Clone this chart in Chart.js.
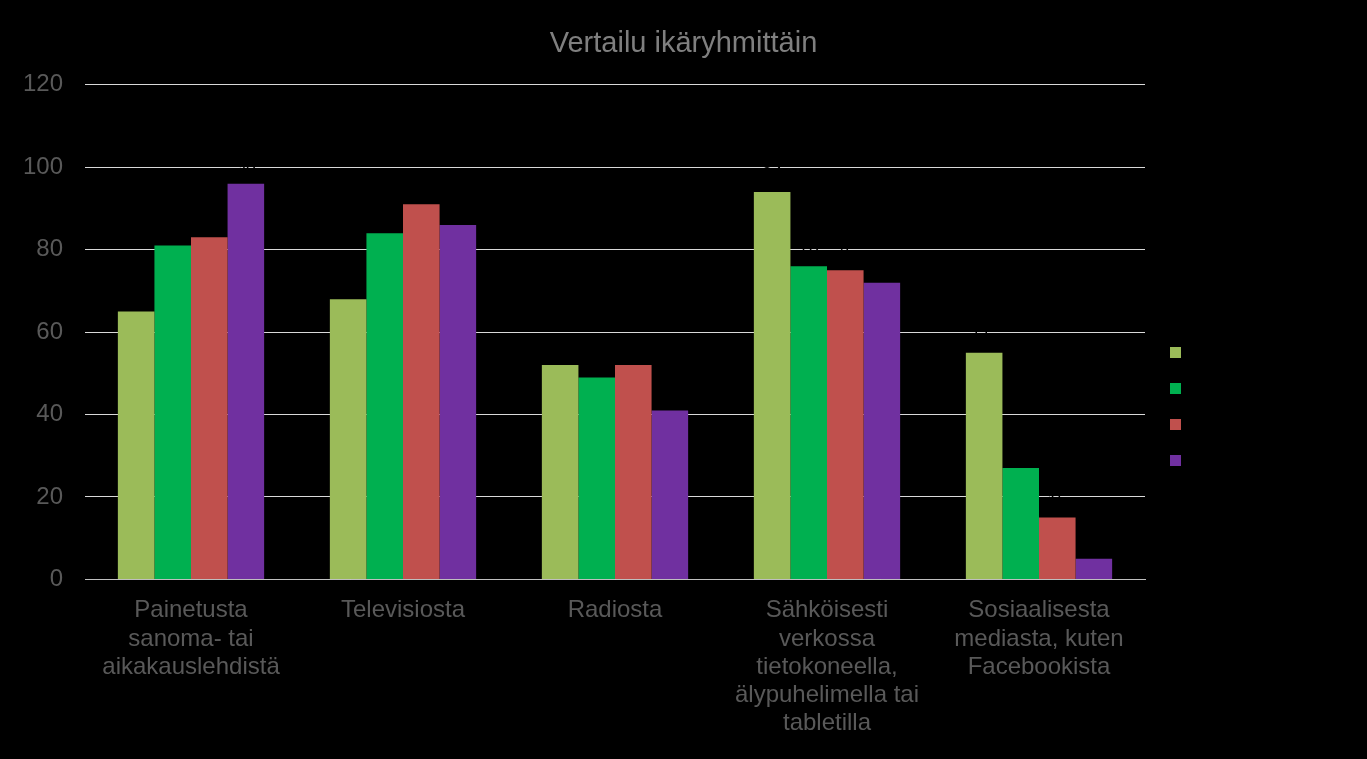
<!DOCTYPE html>
<html>
<head>
<meta charset="utf-8">
<script src="https://cdn.jsdelivr.net/npm/chart.js@4/dist/chart.umd.min.js"></script>
<style>
  html, body { margin: 0; padding: 0; background: #000; }
  #wrap { width: 1367px; height: 759px; }
</style>
</head>
<body>
<div id="wrap"><canvas id="vertailu"></canvas></div>
<script>
// kategoriat ja sarjat
var kategoriat = [
  ['Painetusta', 'sanoma- tai', 'aikakauslehdistä'],
  'Televisiosta',
  'Radiosta',
  ['Sähköisesti', 'verkossa', 'tietokoneella,', 'älypuhelimella tai', 'tabletilla'],
  ['Sosiaalisesta', 'mediasta, kuten', 'Facebookista']
];
var sarjaNimet = ['15–24 v', '25–44 v', '45–64 v', '65+ v'];
var sarja1 = [65, 68, 52, 94, 55];
var sarja2 = [81, 84, 49, 76, 27];
var sarja3 = [83, 91, 52, 75, 15];
var sarja4 = [96, 86, 41, 72, 5];
var varit = ['#9bbb59', '#00b050', '#c0504d', '#7030a0'];
var yTicks = [0, 20, 40, 60, 80, 100, 120];

Chart.defaults.font.family = '"Liberation Sans", Arial, sans-serif';

// arvot palkkien päälle (mustalla, kuten alkuperäisessä)
var arvoLaput = {
  id: 'arvoLaput',
  afterDatasetsDraw: function (chart) {
    var ctx = chart.ctx;
    ctx.save();
    ctx.fillStyle = '#000';
    ctx.font = '18px "Liberation Sans", Arial, sans-serif';
    ctx.textAlign = 'center';
    ctx.textBaseline = 'bottom';
    chart.data.datasets.forEach(function (ds, i) {
      chart.getDatasetMeta(i).data.forEach(function (bar, j) {
        ctx.fillText(ds.data[j], bar.x, bar.y - 8);
      });
    });
    ctx.restore();
  }
};

// selite kiinteän levyiseksi, jotta otsikko pysyy keskellä
var seliteLeveys = {
  id: 'seliteLeveys',
  beforeLayout: function (chart) {
    var lg = chart.legend;
    if (lg && !lg._kiinnitetty) {
      var fit = lg.fit;
      lg.fit = function () { fit.call(this); this.width = 222; };
      lg._kiinnitetty = true;
    }
  }
};

var sarjat = [sarja1, sarja2, sarja3, sarja4];
new Chart(document.getElementById('vertailu'), {
  type: 'bar',
  data: {
    labels: kategoriat,
    datasets: sarjat.map(function (d, i) {
      return {
        label: sarjaNimet[i],
        data: d,
        backgroundColor: varit[i],
        categoryPercentage: 0.69,
        barPercentage: 1.0
      };
    })
  },
  options: {
    responsive: true,
    maintainAspectRatio: false,
    animation: false,
    layout: { padding: { left: 0, right: 0, top: 8, bottom: 4 } },
    plugins: {
      title: {
        display: true,
        text: 'Vertailu ikäryhmittäin',
        color: '#7f7f7f',
        font: { size: 29, weight: 'normal' },
        padding: { top: 19, bottom: 23 }
      },
      legend: {
        position: 'right',
        title: {
          display: true,
          text: ' ',
          color: '#000',
          font: { size: 10 },
          padding: { top: 38, bottom: 0 }
        },
        labels: {
          color: '#000',
          boxWidth: 11,
          boxHeight: 11,
          padding: 25,
          font: { size: 10 }
        }
      },
      tooltip: { enabled: false }
    },
    scales: {
      x: {
        grid: { display: false, drawTicks: false },
        border: { color: '#bfbfbf' },
        ticks: {
          color: '#595959',
          font: { size: 24, lineHeight: 1.18 },
          maxRotation: 0,
          autoSkip: false,
          padding: 17
        }
      },
      y: {
        min: 0,
        max: 120,
        afterFit: function (axis) { axis.width = 85; },
        afterBuildTicks: function (axis) {
          axis.ticks = yTicks.map(function (v) { return { value: v }; });
        },
        grid: { color: '#d9d9d9', drawTicks: false },
        border: { display: false },
        ticks: {
          color: '#595959',
          font: { size: 24 },
          padding: 22
        }
      }
    }
  },
  plugins: [arvoLaput, seliteLeveys]
});
</script>
</body>
</html>
